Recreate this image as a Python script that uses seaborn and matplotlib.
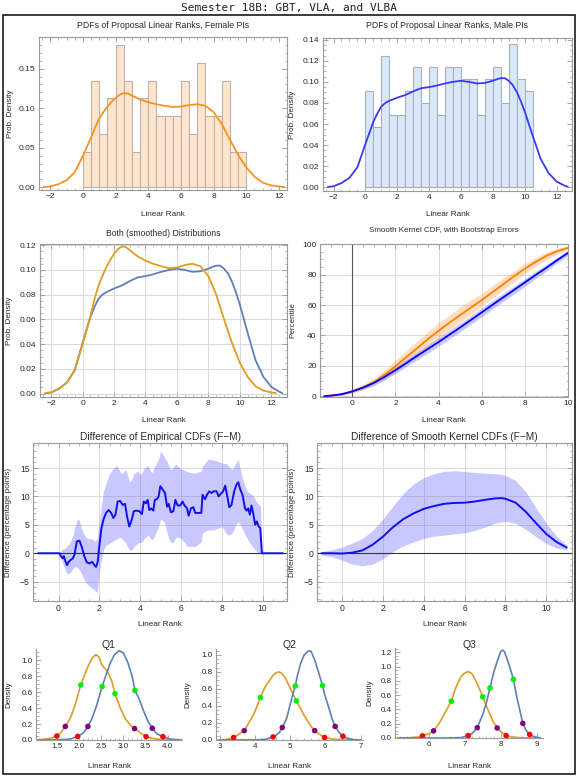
import matplotlib
matplotlib.use("Agg")
import matplotlib.pyplot as plt
from matplotlib.ticker import MultipleLocator, FormatStrFormatter
from matplotlib.patches import Rectangle
import numpy as np
import seaborn as sns

# ---------------- data ----------------
bin_edges_f = [0, 0.5, 1, 1.5, 2, 2.5, 3, 3.5, 4, 4.5, 5, 5.5, 6, 6.5, 7, 7.5, 8, 8.5, 9, 9.5, 10]
female_counts = [2, 6, 3, 5, 8, 6, 2, 5, 6, 4, 4, 4, 6, 3, 7, 4, 4, 6, 2, 2]
bin_edges_m = [0, 0.5, 1, 1.5, 2, 2.5, 3, 3.5, 4, 4.5, 5, 5.5, 6, 6.5, 7, 7.5, 8, 8.5, 9, 9.5, 10, 10.5]
male_counts = [8, 5, 11, 6, 6, 8, 10, 7, 10, 6, 10, 10, 9, 9, 6, 9, 10, 7, 12, 9, 8]

kde_f_x = [-2.4, -2, -1.5, -1, -0.5, 0, 0.5, 0.75, 1, 1.25, 1.5, 1.75, 2, 2.25, 2.5, 2.75, 3, 3.5,
           4, 4.5, 5, 5.5, 6, 6.5, 7, 7.5, 8, 8.5, 9, 9.5, 10, 10.5, 11, 11.5, 12, 12.3]
kde_f_y = [0.0003, 0.001, 0.004, 0.009, 0.019, 0.040, 0.063, 0.076, 0.087, 0.095, 0.102, 0.108, 0.113,
           0.117, 0.119, 0.1185, 0.116, 0.111, 0.1075, 0.105, 0.103, 0.1015, 0.102, 0.104, 0.105, 0.103,
           0.095, 0.080, 0.060, 0.041, 0.025, 0.0135, 0.006, 0.0025, 0.001, 0.0005]
kde_m_x = [-2.35, -2, -1.5, -1, -0.5, 0, 0.5, 0.75, 1, 1.25, 1.5, 2, 2.5, 3, 3.5, 4, 4.5, 5, 5.5, 6,
           6.5, 7, 7.5, 8, 8.25, 8.5, 8.75, 9, 9.25, 9.5, 9.75, 10, 10.5, 11, 11.5, 12, 12.5, 12.7]
kde_m_y = [0.0003, 0.001, 0.004, 0.009, 0.019, 0.041, 0.062, 0.070, 0.0765, 0.080, 0.082, 0.085, 0.0875,
           0.091, 0.094, 0.095, 0.0965, 0.0985, 0.100, 0.101, 0.100, 0.0985, 0.099, 0.101, 0.1025, 0.1035,
           0.1035, 0.101, 0.097, 0.0905, 0.082, 0.072, 0.049, 0.027, 0.0135, 0.0055, 0.0016, 0.0005]

cdf_x = [-1.3, -1, -0.5, 0, 0.5, 1, 1.5, 2, 2.5, 3, 3.5, 4, 4.5, 5, 5.5, 6, 6.5, 7, 7.5, 8, 8.5, 9, 9.5, 10]
cdf_f = [0, 0.4, 1.3, 3.2, 5.9, 9.3, 14.2, 19.7, 25.7, 31.6, 37.6, 43.1, 48.4, 53.4, 58.4, 63.3, 68.5,
         73.7, 79.0, 84.0, 88.4, 92.4, 95.5, 97.7]
cdf_f_lo = [0, 0.2, 0.8, 2.2, 4.2, 6.9, 10.9, 15.8, 21.2, 26.8, 32.5, 38.3, 43.6, 48.7, 54.0, 59.1, 64.4,
            69.9, 75.4, 80.8, 85.5, 90.0, 93.6, 96.5]
cdf_f_hi = [0, 0.6, 1.9, 4.3, 7.8, 11.8, 17.3, 23.6, 30.0, 36.3, 42.6, 48.5, 53.5, 58.8, 63.5, 67.7, 72.9,
            77.6, 82.5, 87.4, 91.2, 94.7, 97.3, 98.9]
cdf_m = [0, 0.4, 1.3, 3.2, 5.7, 8.8, 12.8, 17.2, 21.8, 26.5, 31.1, 35.7, 40.5, 45.3, 50.2, 55.2, 60.2,
         65.1, 70.0, 74.9, 79.8, 84.6, 89.6, 94.3]
cdf_m_lo = [0, 0.2, 0.9, 2.5, 4.6, 7.3, 11.0, 15.0, 19.4, 23.9, 28.3, 32.9, 37.7, 42.5, 47.4, 52.4, 57.4,
            62.4, 67.4, 72.4, 77.4, 82.5, 87.7, 92.6]
cdf_m_hi = [0, 0.6, 1.7, 3.9, 6.8, 10.3, 14.6, 19.4, 24.2, 29.1, 33.9, 38.5, 43.3, 48.1, 53.0, 58.0, 63.0,
            67.8, 72.6, 77.4, 82.2, 86.7, 91.5, 96.0]

emp_x = [-1, 0.05, 0.13, 0.21, 0.26, 0.33, 0.42, 0.5, 0.59, 0.7, 0.78, 0.9, 1.03, 1.16, 1.27, 1.39,
         1.52, 1.65, 1.76, 1.84, 1.92, 2.0, 2.09, 2.2, 2.33, 2.46, 2.58, 2.69, 2.79, 2.9, 3.02, 3.15,
         3.26, 3.36, 3.47, 3.59, 3.69, 3.83, 3.96, 4.09, 4.18, 4.29, 4.37, 4.45, 4.54, 4.65, 4.72, 4.81,
         4.91, 4.99, 5.11, 5.22, 5.32, 5.4, 5.51, 5.63, 5.73, 5.84, 5.97, 6.08, 6.18, 6.3, 6.38, 6.49,
         6.61, 6.7, 6.9, 7.0, 7.06, 7.18, 7.28, 7.39, 7.5, 7.6, 7.75, 7.85, 7.96, 8.07, 8.17, 8.29, 8.37,
         8.48, 8.61, 8.73, 8.81, 8.91, 9.02, 9.14, 9.22, 9.3, 9.38, 9.46, 9.54, 9.64, 9.72, 9.8, 9.89,
         9.97, 11.0]
emp_y = [0, 0, -0.6, -0.9, -0.5, -1.3, -2.1, -1.5, -1.2, -0.9, -0.3, 2.1, 2.2, 0.9, -0.6, -1.6,
         -1.8, -1.5, -2.1, -2.4, -1.5, 1.2, 4.1, 5.9, 7.1, 7.6, 7.1, 6.2, 6.8, 9.1, 9.2, 8.5,
         8.7, 6.5, 4.7, 5.9, 7.4, 7.5, 7.4, 6.9, 9.1, 8.8, 9.4, 7.6, 7.9, 7.5, 9.4, 9.5,
         10.0, 11.8, 11.2, 10.6, 8.2, 8.7, 7.2, 7.4, 9.4, 8.4, 8.4, 9.1, 8.4, 7.9, 6.6, 7.9,
         8.1, 7.1, 7.1, 7.1, 10.3, 9.5, 10.3, 10.9, 10.6, 10.9, 10.9, 10.0, 10.5, 10.9, 11.9, 9.7, 8.1,
         8.5, 10.9, 12.1, 12.5, 11.2, 10.3, 7.9, 7.5, 7.9, 6.8, 8.4, 7.1, 5.0, 5.6, 4.8, 4.4,
         0, 0]
emp_band_x = [0, 0.1, 0.2, 0.3, 0.4, 0.5, 0.6, 0.7, 0.8, 0.9, 1.0, 1.1, 1.2, 1.3, 1.4, 1.5, 1.6, 1.7,
              1.8, 1.9, 2.0, 2.1, 2.2, 2.3, 2.5, 2.6, 2.7, 2.8, 2.9, 3.0, 3.1, 3.2, 3.3, 3.4, 3.5, 3.6,
              3.7, 3.9, 4.0, 4.1, 4.2, 4.3, 4.4, 4.5, 4.6, 4.7, 4.8, 4.9, 5.0, 5.1, 5.2, 5.3, 5.4, 5.5,
              5.6, 5.7, 5.8, 6.0, 6.1, 6.2, 6.3, 6.4, 6.5, 6.6, 6.7, 7.0, 7.05, 7.2, 7.3, 7.4, 7.6, 7.8,
              7.9, 8.0, 8.1, 8.2, 8.3, 8.4, 8.5, 8.6, 8.7, 8.8, 8.9, 9.0, 9.1, 9.2, 9.3, 9.4, 9.5, 9.6,
              9.7, 9.8, 9.9, 9.97]
emp_hi = [0, 0.3, 0.8, 0.8, 1.2, 1.5, 2.2, 3.0, 4.6, 5.8, 6.0, 4.8, 3.6, 3.0, 2.7, 2.5, 2.6, 2.4,
          2.1, 2.6, 5.5, 8.5, 10.8, 12.0, 14.0, 14.5, 15.0, 15.3, 15.3, 14.5, 14.0, 14.3, 14.7, 13.5, 12.5, 13.0,
          14.0, 14.5, 13.8, 14.2, 15.0, 15.2, 15.5, 14.5, 14.2, 15.2, 15.8, 16.5, 18.0, 17.5, 16.8, 16.3, 15.5, 14.7,
          15.0, 15.6, 15.6, 14.8, 14.8, 14.5, 14.4, 14.2, 14.2, 14.1, 14.1, 14.5, 15.3, 16.0, 16.4, 16.6, 16.4, 16.2,
          16.0, 16.0, 15.8, 15.8, 15.6, 15.0, 14.7, 15.3, 15.9, 16.5, 15.0, 13.5, 12.3, 11.2, 10.8, 10.5, 10.3, 9.8,
          9.1, 8.6, 8.2, 0]
emp_lo = [0, -0.5, -1.8, -2.6, -3.5, -3.6, -3.3, -2.8, -2.3, -2.5, -2.8, -3.3, -4.2, -4.9, -5.4, -5.8, -6.0, -6.3,
          -6.6, -6.9, -3.5, -1.0, 0.5, 1.3, 1.8, 2.0, 2.2, 2.4, 2.6, 2.8, 2.6, 2.2, 1.8, 1.0, 0.5, 0.6,
          1.2, 1.8, 1.9, 2.0, 2.6, 2.9, 3.2, 2.6, 2.4, 3.0, 3.8, 4.6, 6.0, 5.8, 5.3, 4.0, 2.6, 2.0,
          1.8, 2.5, 2.9, 2.6, 2.2, 1.8, 1.2, 1.2, 1.2, 1.2, 1.2, 2.0, 3.5, 3.9, 4.1, 4.1, 4.1, 4.4,
          4.5, 4.7, 4.2, 3.6, 3.2, 3.3, 3.5, 4.2, 5.0, 5.6, 5.0, 4.4, 3.6, 2.9, 2.3, 1.7, 1.2, 0.8,
          0.3, 0.1, 0.0, 0]

sd_x = [-1, -0.5, 0, 0.5, 1, 1.5, 2, 2.5, 3, 3.5, 4, 4.5, 5, 5.5, 6, 6.5, 7, 7.5, 7.8, 8, 8.5, 9,
        9.5, 10, 10.5, 11]
sd_y = [0, 0, -0.05, 0.1, 0.5, 1.5, 2.9, 4.6, 6.0, 7.0, 7.8, 8.3, 8.7, 8.85, 8.9, 9.1, 9.4, 9.65,
        9.7, 9.6, 8.9, 7.3, 5.3, 3.4, 2.0, 1.0]
sd_hi = [0.3, 0.6, 1.1, 1.8, 2.6, 4.0, 6.0, 8.3, 10.5, 12.2, 13.3, 14.0, 14.4, 14.5, 14.4, 14.2, 14.1,
         14.0, 13.9, 13.7, 12.8, 10.8, 8.0, 5.3, 3.0, 1.4]
sd_lo = [-0.3, -0.6, -1.2, -1.9, -2.2, -1.9, -1.0, 0.3, 1.3, 2.0, 2.6, 3.0, 3.2, 3.4, 3.6, 4.0, 4.6,
         5.3, 5.5, 5.6, 5.3, 4.2, 2.9, 1.7, 0.9, 0.6]

q1_f_x = [1.05, 1.2, 1.3, 1.4, 1.5, 1.6, 1.69, 1.8, 1.9, 2.04, 2.1, 2.2, 2.3, 2.38, 2.45, 2.51, 2.59,
          2.66, 2.74, 2.81, 2.93, 3.04, 3.15, 3.25, 3.38, 3.51, 3.65, 3.8, 4.0, 4.3]
q1_f_y = [0.002, 0.008, 0.016, 0.03, 0.05, 0.1, 0.17, 0.27, 0.42, 0.69, 0.78, 0.92, 1.03, 1.07, 1.04,
          0.945, 0.89, 0.84, 0.735, 0.58, 0.40, 0.27, 0.19, 0.143, 0.09, 0.042, 0.02, 0.008, 0.002, 0.0]
q1_m_x = [1.1, 1.5, 1.8, 1.97, 2.1, 2.2, 2.3, 2.4, 2.52, 2.6, 2.7, 2.8, 2.9, 3.0, 3.1, 3.2, 3.26,
          3.35, 3.45, 3.55, 3.65, 3.75, 3.89, 4.0, 4.1, 4.3]
q1_m_y = [0.0, 0.001, 0.01, 0.045, 0.09, 0.17, 0.28, 0.44, 0.67, 0.80, 0.96, 1.07, 1.12, 1.09, 0.97,
          0.79, 0.62, 0.52, 0.37, 0.24, 0.147, 0.08, 0.042, 0.02, 0.008, 0.0]
q1_f_dots_x = [1.5, 1.69, 2.04, 2.81, 3.25, 3.51]
q1_f_dots_y = [0.05, 0.17, 0.69, 0.58, 0.143, 0.042]
q1_m_dots_x = [1.97, 2.2, 2.52, 3.26, 3.65, 3.89]
q1_m_dots_y = [0.045, 0.17, 0.67, 0.62, 0.147, 0.042]

q2_f_x = [2.95, 3.2, 3.4, 3.5, 3.7, 3.9, 4.0, 4.16, 4.3, 4.4, 4.5, 4.6, 4.67, 4.75, 4.85, 4.95, 5.05,
          5.18, 5.3, 5.4, 5.5, 5.6, 5.7, 5.85, 5.98, 6.2, 6.5, 7.0]
q2_f_y = [0.0, 0.005, 0.03, 0.055, 0.11, 0.25, 0.33, 0.50, 0.63, 0.69, 0.75, 0.79, 0.80, 0.79, 0.74,
          0.66, 0.57, 0.46, 0.37, 0.29, 0.22, 0.16, 0.11, 0.063, 0.03, 0.012, 0.004, 0.0]
q2_m_x = [3.0, 4.0, 4.3, 4.52, 4.6, 4.7, 4.78, 4.9, 5.0, 5.1, 5.15, 5.2, 5.3, 5.4, 5.5, 5.55, 5.6, 5.7,
          5.8, 5.92, 6.0, 6.1, 6.2, 6.28, 6.4, 6.5, 6.6, 6.8, 7.0]
q2_m_y = [0.0, 0.001, 0.008, 0.036, 0.055, 0.09, 0.147, 0.25, 0.41, 0.57, 0.635, 0.74, 0.90, 1.00, 1.04,
          1.05, 1.04, 0.94, 0.81, 0.64, 0.51, 0.38, 0.24, 0.16, 0.085, 0.045, 0.024, 0.004, 0.0]
q2_f_dots_x = [3.4, 3.7, 4.16, 5.18, 5.7, 5.98]
q2_f_dots_y = [0.03, 0.11, 0.50, 0.46, 0.11, 0.03]
q2_m_dots_x = [4.52, 4.78, 5.15, 5.92, 6.28, 6.5]
q2_m_dots_y = [0.036, 0.147, 0.635, 0.64, 0.16, 0.045]

q3_f_x = [5.1, 5.5, 5.7, 5.83, 6.0, 6.14, 6.3, 6.45, 6.63, 6.75, 6.9, 7.0, 7.1, 7.2, 7.3, 7.4, 7.5,
          7.6, 7.7, 7.8, 7.9, 8.0, 8.15, 8.3, 8.5, 9.0]
q3_f_y = [0.0, 0.005, 0.014, 0.03, 0.06, 0.10, 0.21, 0.35, 0.515, 0.70, 0.86, 0.91, 0.93, 0.90, 0.81,
          0.70, 0.577, 0.45, 0.33, 0.22, 0.14, 0.09, 0.033, 0.014, 0.005, 0.0]
q3_m_x = [5.2, 6.5, 6.9, 7.1, 7.2, 7.35, 7.5, 7.6, 7.7, 7.8, 7.9, 8.0, 8.05, 8.1, 8.2, 8.3, 8.35, 8.45,
          8.55, 8.61, 8.7, 8.8, 8.9, 9.0, 9.1]
q3_m_y = [0.0, 0.0, 0.005, 0.033, 0.06, 0.145, 0.33, 0.49, 0.70, 0.91, 1.07, 1.21, 1.23, 1.21, 1.07,
          0.91, 0.82, 0.56, 0.34, 0.205, 0.11, 0.05, 0.023, 0.01, 0.0]
q3_f_dots_x = [5.83, 6.14, 6.63, 7.5, 7.9, 8.15]
q3_f_dots_y = [0.03, 0.10, 0.515, 0.577, 0.14, 0.033]
q3_m_dots_x = [7.1, 7.35, 7.7, 8.35, 8.61, 8.8]
q3_m_dots_y = [0.033, 0.145, 0.70, 0.82, 0.205, 0.05]
dot_colors = ["#ff0000", "#800080", "#00ee00", "#00ee00", "#800080", "#ff0000"]

# ---------------- styling ----------------
sns.set_style("white")
plt.rcParams["font.family"] = ["Liberation Sans", "DejaVu Sans"]
plt.rcParams["axes.unicode_minus"] = True

W, H = 578, 778
fig = plt.figure(figsize=(W / 100, H / 100), dpi=100)
FRAME = "#9a9a9a"
TXT = "#2a2a2a"
GRID = "#dadada"
ORANGE_M = "#e19c24"
BLUE_M = "#5e81b5"


def make_ax(box):
    l, t, r, b = box
    return fig.add_axes([l / W, 1 - b / H, (r - l) / W, (b - t) / H])


def style_frame(ax, fs=6):
    for s in ax.spines.values():
        s.set_visible(True)
        s.set_color(FRAME)
        s.set_linewidth(0.8)
    ax.tick_params(which="both", direction="in", top=True, right=True, bottom=True, left=True,
                   colors=FRAME, labelcolor=TXT, labelsize=fs, pad=2.5)
    ax.tick_params(which="major", length=3.5, width=0.6)
    ax.tick_params(which="minor", length=1.8, width=0.5)


def style_q(ax):
    for s in ["top", "right"]:
        ax.spines[s].set_visible(False)
    for s in ["left", "bottom"]:
        ax.spines[s].set_visible(True)
        ax.spines[s].set_color(FRAME)
        ax.spines[s].set_linewidth(0.8)
    ax.tick_params(which="both", direction="in", bottom=True, left=True, colors=FRAME,
                   labelcolor=TXT, labelsize=5.8, pad=2.5)
    ax.tick_params(which="major", length=3.5, width=0.6)
    ax.tick_params(which="minor", length=1.8, width=0.5)


def put_labels(ax, box, xlabel, xlab_y, ylabel, ylab_x, fs=5.9):
    l, t, r, b = box
    ax.set_xlabel(xlabel, fontsize=fs, color=TXT)
    ax.xaxis.set_label_coords(0.5, (b - xlab_y) / (b - t))
    ax.xaxis.label.set_va("center")
    ax.set_ylabel(ylabel, fontsize=fs, color=TXT)
    ax.yaxis.set_label_coords((ylab_x - l) / (r - l), 0.5)
    ax.yaxis.label.set_va("center")


def put_title(ax, box, text, ty, fs):
    l, t, r, b = box
    ax.set_title(text, fontsize=fs, color=TXT, y=(b - ty) / (b - t), va="center", pad=0)


def line(ax, xs, ys, color, lw=1.3):
    sns.lineplot(x=xs, y=ys, ax=ax, color=color, linewidth=lw, sort=False, estimator=None, legend=False)


# ---------------- Row 1: histograms ----------------
box1 = (39, 37, 287, 190)
ax1 = make_ax(box1)
centers_f = [e + 0.25 for e in bin_edges_f[:-1]]
sns.histplot(x=centers_f, weights=female_counts, bins=bin_edges_f, stat="density", ax=ax1,
             color="#ffe5cb", edgecolor="#b9b2ab", linewidth=0.8, alpha=1)
line(ax1, kde_f_x, kde_f_y, "#f7931e")
ax1.set_xlim(-2.69, 12.49)
ax1.set_ylim(-0.0034, 0.19)
ax1.xaxis.set_major_locator(MultipleLocator(2))
ax1.xaxis.set_minor_locator(MultipleLocator(0.5))
ax1.yaxis.set_major_locator(MultipleLocator(0.05))
ax1.yaxis.set_minor_locator(MultipleLocator(0.01))
ax1.yaxis.set_major_formatter(FormatStrFormatter("%.2f"))
style_frame(ax1)
put_labels(ax1, box1, "Linear Rank", 214, "Prob. Density", 10)
put_title(ax1, box1, "PDFs of Proposal Linear Ranks, Female PIs", 26, 6.3)

box2 = (323, 38, 572, 191)
ax2 = make_ax(box2)
centers_m = [e + 0.25 for e in bin_edges_m[:-1]]
sns.histplot(x=centers_m, weights=male_counts, bins=bin_edges_m, stat="density", ax=ax2,
             color="#d9e8f8", edgecolor="#a9b0b8", linewidth=0.8, alpha=1)
line(ax2, kde_m_x, kde_m_y, "#3a3af2")
ax2.set_xlim(-2.66, 12.97)
ax2.set_ylim(-0.0035, 0.1416)
ax2.xaxis.set_major_locator(MultipleLocator(2))
ax2.xaxis.set_minor_locator(MultipleLocator(0.5))
ax2.yaxis.set_major_locator(MultipleLocator(0.02))
ax2.yaxis.set_minor_locator(MultipleLocator(0.005))
ax2.yaxis.set_major_formatter(FormatStrFormatter("%.2f"))
style_frame(ax2)
put_labels(ax2, box2, "Linear Rank", 214, "Prob. Density", 293)
put_title(ax2, box2, "PDFs of Proposal Linear Ranks, Male PIs", 26, 6.3)

# ---------------- Row 2 ----------------
box3 = (40, 244, 287, 397)
ax3 = make_ax(box3)
line(ax3, kde_m_x, kde_m_y, BLUE_M)
line(ax3, kde_f_x, kde_f_y, ORANGE_M)
ax3.set_xlim(-2.71, 13.0)
ax3.set_ylim(-0.0027, 0.121)
ax3.xaxis.set_major_locator(MultipleLocator(2))
ax3.xaxis.set_minor_locator(MultipleLocator(0.5))
ax3.yaxis.set_major_locator(MultipleLocator(0.02))
ax3.yaxis.set_minor_locator(MultipleLocator(0.005))
ax3.yaxis.set_major_formatter(FormatStrFormatter("%.2f"))
ax3.grid(True, which="major", color=GRID, linewidth=0.7)
ax3.set_axisbelow(True)
style_frame(ax3)
put_labels(ax3, box3, "Linear Rank", 421, "Prob. Density", 10)
put_title(ax3, box3, "Both (smoothed) Distributions", 233, 6.2)

box4 = (320, 244, 568, 397)
ax4 = make_ax(box4)
ax4.fill_between(cdf_x, cdf_f_lo, cdf_f_hi, color="#ff9a40", alpha=0.33, linewidth=0)
ax4.fill_between(cdf_x, cdf_m_lo, cdf_m_hi, color="#5a5aff", alpha=0.33, linewidth=0)
line(ax4, cdf_x, cdf_f, "#ff7f00")
line(ax4, cdf_x, cdf_m, "#0000ff")
ax4.axvline(0, color="#555555", linewidth=0.8, zorder=1)
ax4.set_xlim(-1.5, 10.0)
ax4.set_ylim(-0.5, 100.2)
ax4.xaxis.set_major_locator(MultipleLocator(2))
ax4.xaxis.set_minor_locator(MultipleLocator(0.5))
ax4.yaxis.set_major_locator(MultipleLocator(20))
ax4.yaxis.set_minor_locator(MultipleLocator(5))
ax4.grid(True, which="major", color=GRID, linewidth=0.7)
ax4.set_axisbelow(True)
style_frame(ax4)
put_labels(ax4, box4, "Linear Rank", 421, "Percentile", 293)
put_title(ax4, box4, "Smooth Kernel CDF, with Bootstrap Errors", 230, 5.8)

# ---------------- Row 3 ----------------
box5 = (33, 443, 287, 601)
ax5 = make_ax(box5)
ax5.fill_between(emp_band_x, emp_lo, emp_hi, color="#6464ff", alpha=0.35, linewidth=0)
ax5.axhline(0, color="#333333", linewidth=0.8, zorder=1.5)
line(ax5, emp_x, emp_y, "#1010ee", lw=1.4)
ax5.set_xlim(-1.25, 11.2)
ax5.set_ylim(-8.4, 19.4)
ax5.xaxis.set_major_locator(MultipleLocator(2))
ax5.xaxis.set_minor_locator(MultipleLocator(0.5))
ax5.yaxis.set_major_locator(MultipleLocator(5))
ax5.yaxis.set_minor_locator(MultipleLocator(1))
ax5.grid(True, which="major", color=GRID, linewidth=0.7)
ax5.set_axisbelow(True)
style_frame(ax5, fs=6.2)
put_labels(ax5, box5, "Linear Rank", 625, "Difference (percentage points)", 9)
put_title(ax5, box5, "Difference of Empirical CDFs (F\u2212M)", 437, 7.3)

box6 = (317, 443, 572, 601)
ax6 = make_ax(box6)
ax6.fill_between(sd_x, sd_lo, sd_hi, color="#6464ff", alpha=0.35, linewidth=0)
ax6.axhline(0, color="#333333", linewidth=0.8, zorder=1.5)
line(ax6, sd_x, sd_y, "#1010ee", lw=1.4)
ax6.set_xlim(-1.22, 11.26)
ax6.set_ylim(-8.4, 19.4)
ax6.xaxis.set_major_locator(MultipleLocator(2))
ax6.xaxis.set_minor_locator(MultipleLocator(0.5))
ax6.yaxis.set_major_locator(MultipleLocator(5))
ax6.yaxis.set_minor_locator(MultipleLocator(1))
ax6.grid(True, which="major", color=GRID, linewidth=0.7)
ax6.set_axisbelow(True)
style_frame(ax6, fs=6.2)
put_labels(ax6, box6, "Linear Rank", 625, "Difference (percentage points)", 293)
put_title(ax6, box6, "Difference of Smooth Kernel CDFs (F\u2212M)", 437, 7.3)

# ---------------- Row 4: Q1, Q2, Q3 ----------------
qspecs = [
    ((36, 649, 182, 740), "Q1", q1_f_x, q1_f_y, q1_m_x, q1_m_y, q1_f_dots_x, q1_f_dots_y,
     q1_m_dots_x, q1_m_dots_y, (1.03, 4.32), 1.14, 0.5, "%.1f", 9),
    ((216, 649, 363, 740), "Q2", q2_f_x, q2_f_y, q2_m_x, q2_m_y, q2_f_dots_x, q2_f_dots_y,
     q2_m_dots_x, q2_m_dots_y, (2.9, 7.07), 1.07, 1, "%d", 188),
    ((395, 648, 543, 738), "Q3", q3_f_x, q3_f_y, q3_m_x, q3_m_y, q3_f_dots_x, q3_f_dots_y,
     q3_m_dots_x, q3_m_dots_y, (5.07, 9.17), 1.26, 1, "%d", 370),
]
for (box, ttl, fx, fy, mx, my, fdx, fdy, mdx, mdy, xl, ytop, xstep, xfmt, ylx) in qspecs:
    ax = make_ax(box)
    line(ax, fx, fy, ORANGE_M, lw=1.2)
    line(ax, mx, my, BLUE_M, lw=1.2)
    sns.scatterplot(x=fdx, y=fdy, ax=ax, c=dot_colors, s=16, linewidth=0, zorder=5, legend=False)
    sns.scatterplot(x=mdx, y=mdy, ax=ax, c=dot_colors, s=16, linewidth=0, zorder=5, legend=False)
    ax.set_xlim(*xl)
    ax.set_ylim(0, ytop)
    ax.xaxis.set_major_locator(MultipleLocator(xstep))
    ax.xaxis.set_minor_locator(MultipleLocator(xstep / 5))
    ax.xaxis.set_major_formatter(FormatStrFormatter(xfmt))
    ax.yaxis.set_major_locator(MultipleLocator(0.2))
    ax.yaxis.set_minor_locator(MultipleLocator(0.05))
    ax.yaxis.set_major_formatter(FormatStrFormatter("%.1f"))
    style_q(ax)
    put_labels(ax, box, "Linear Rank", 766, "Density", ylx, fs=5.8)
    put_title(ax, box, ttl, 645, 7.5)

# ---------------- figure title and border ----------------
fig.text(289 / W, 1 - 7.5 / H, "Semester 18B: GBT, VLA, and VLBA", family="DejaVu Sans Mono",
         fontsize=8, ha="center", va="center", color="#222222")
fig.patches.append(Rectangle((3 / W, 1 - 774 / H), 572 / W, 759 / H, transform=fig.transFigure,
                             fill=False, edgecolor="#1a1a1a", linewidth=1.2))

fig.savefig("out.png", dpi=100)
